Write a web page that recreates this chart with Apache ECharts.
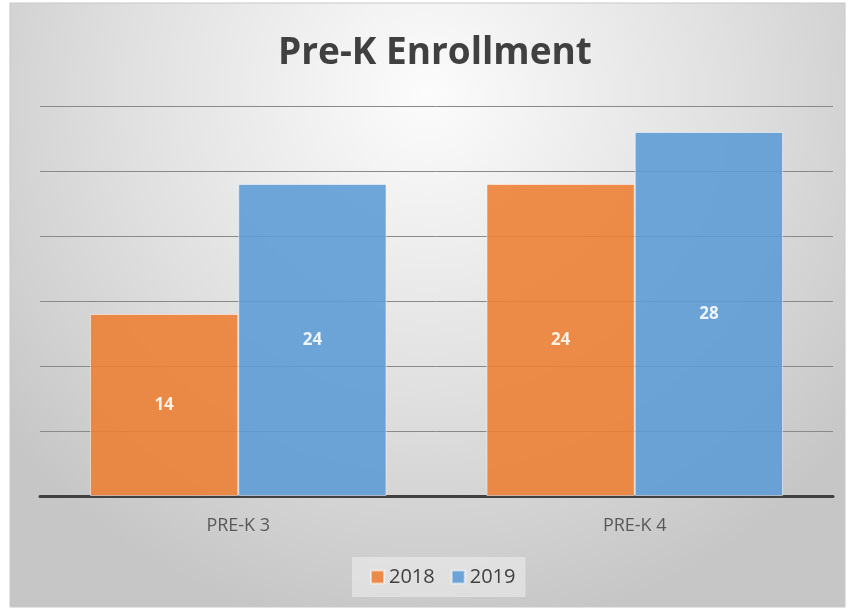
<!DOCTYPE html>
<html>
<head>
  <meta charset="utf-8" />
  <script src="https://cdn.jsdelivr.net/npm/echarts@6/dist/echarts.min.js"></script>
  <style>
    html, body { margin: 0; padding: 0; background: #fff; }
    #chart { width: 852px; height: 611px; }
  </style>
</head>
<body>
  <div id="chart"></div>
  <script type="text/javascript">
    const categories = ["PRE-K 3", "PRE-K 4"];
    const seriesNames = ["2018", "2019"];
    const values2018 = [14, 24];
    const values2019 = [24, 28];
    const colors = ["#ED7D31", "#5B9BD5"];

    const chart = echarts.init(document.getElementById("chart"));
    const font = "'Open Sans', 'Noto Sans', sans-serif";

    var option = {
      animation: false,
      graphic: [
        {
          type: 'rect',
          z: -10,
          shape: { x: 10, y: 3, width: 835, height: 604 },
          style: {
            fill: new echarts.graphic.RadialGradient(0.5, 0.15, 0.9, [
              { offset: 0, color: '#fcfcfc' },
              { offset: 0.55, color: '#e0e0e0' },
              { offset: 1, color: '#c6c6c6' }
            ]),
            stroke: '#c8c8c8',
            lineWidth: 1
          }
        }
      ],
      title: {
        text: 'Pre-K Enrollment',
        left: 273,
        top: 30,
        textStyle: {
          fontFamily: font,
          fontWeight: 'bold',
          fontSize: 37,
          color: '#404040'
        }
      },
      legend: {
        data: seriesNames,
        icon: 'rect',
        bottom: 14,
        left: 352,
        itemWidth: 13,
        itemHeight: 13,
        itemGap: 16,
        padding: [10, 10, 10, 18],
        backgroundColor: 'rgba(240,240,240,0.55)',
        textStyle: { fontFamily: font, fontSize: 20, color: '#404040' }
      },
      grid: {
        left: 40,
        right: 19,
        top: 106,
        bottom: 115
      },
      xAxis: {
        type: 'category',
        data: categories,
        axisTick: { show: false },
        axisLine: { lineStyle: { color: '#404040', width: 3 } },
        axisLabel: { fontFamily: font, fontSize: 18, color: '#595959', margin: 21 }
      },
      yAxis: {
        type: 'value',
        min: 0,
        max: 30,
        interval: 5,
        axisLabel: { show: false },
        axisLine: { show: false },
        axisTick: { show: false },
        splitLine: { lineStyle: { color: '#8a8a8a', width: 1 } }
      },
      series: [
        {
          name: seriesNames[0],
          type: 'bar',
          data: values2018,
          barWidth: '37.4%',
          barGap: '0%',
          itemStyle: { color: colors[0], opacity: 0.88, borderColor: 'rgba(255,255,255,0.6)', borderWidth: 1 },
          label: {
            show: true, position: 'inside', color: '#fff',
            fontFamily: font, fontWeight: 'bold', fontSize: 17
          }
        },
        {
          name: seriesNames[1],
          type: 'bar',
          data: values2019,
          barWidth: '37.4%',
          barGap: '0%',
          itemStyle: { color: colors[1], opacity: 0.88, borderColor: 'rgba(255,255,255,0.6)', borderWidth: 1 },
          label: {
            show: true, position: 'inside', color: '#fff',
            fontFamily: font, fontWeight: 'bold', fontSize: 17
          }
        }
      ]
    };

    chart.setOption(option);
  </script>
</body>
</html>
